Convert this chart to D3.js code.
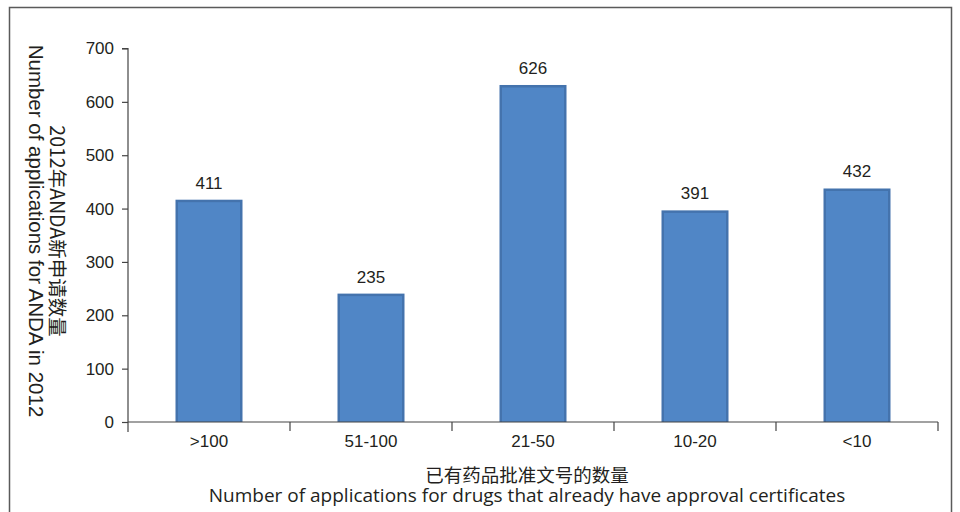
<!DOCTYPE html>
<html>
<head>
<meta charset="utf-8">
<script src="https://cdn.jsdelivr.net/npm/d3@7"></script>
<style>
  html, body { margin: 0; padding: 0; background: #fff; }
  svg { display: block; }
</style>
</head>
<body>
<svg id="chart" width="960" height="512"></svg>
<script>
// Number of drugs already holding approval certificates (category buckets)
const categories = [">100", "51-100", "21-50", "10-20", "<10"];
// New ANDA applications filed in 2012 per bucket
const applications = [411, 235, 626, 391, 432];
const yTicks = [0, 100, 200, 300, 400, 500, 600, 700];

const svg = d3.select("#chart");
const margin = { left: 128, right: 938, top: 48.5, bottom: 422 };
const ink = "#231f20";
const sans = "'Liberation Sans', Arial, sans-serif";
const cjk = "'Noto Sans CJK SC', sans-serif";

// outer frame
svg.append("rect")
  .attr("x", 9.5).attr("y", 7.5)
  .attr("width", 942).attr("height", 520)
  .attr("fill", "none").attr("stroke", "#5a5a5a").attr("stroke-width", 1.5);

const x = d3.scaleBand().domain(categories)
  .range([margin.left, margin.right]).paddingInner(0).paddingOuter(0);
const y = d3.scaleLinear().domain([0, 700]).range([margin.bottom, margin.top]);

// bars with a thin bevelled rim
const barW = 67, bevel = 3, inset = 2.5;
const bars = svg.append("g").selectAll("g").data(applications).join("g")
  .attr("transform", (d, i) => `translate(${x(categories[i]) + x.bandwidth() / 2 - barW / 2},0)`);
bars.append("rect")
  .attr("x", 0).attr("y", d => y(d) - bevel)
  .attr("width", barW).attr("height", d => y(0) - y(d) + bevel)
  .attr("fill", "#4473ad");
bars.append("rect")
  .attr("x", inset).attr("y", d => y(d) - bevel + inset)
  .attr("width", barW - 2 * inset).attr("height", d => y(0) - y(d) + bevel - inset)
  .attr("fill", "#5086c6");

// value labels
svg.append("g").selectAll("text").data(applications).join("text")
  .attr("x", (d, i) => x(categories[i]) + x.bandwidth() / 2)
  .attr("y", d => y(d) - bevel - 11)
  .attr("text-anchor", "middle")
  .attr("font-family", sans)
  .attr("font-size", 17)
  .attr("fill", ink)
  .text(d => d);

// y axis
const yAxis = d3.axisLeft(y).tickValues(yTicks).tickSize(6).tickPadding(8);
const gy = svg.append("g").attr("transform", `translate(${margin.left},0)`).call(yAxis);
gy.select(".domain").attr("d", `M-6,${margin.top}H0V${margin.bottom + 10}`)
  .attr("stroke", "#444").attr("stroke-width", 1.2);
gy.selectAll(".tick line").attr("stroke", "#444").attr("stroke-width", 1.2);
gy.selectAll(".tick text")
  .attr("font-family", sans)
  .attr("font-size", 17).attr("fill", ink);

// x axis: tick marks on category boundaries, labels at band centres
const gx = svg.append("g").attr("transform", `translate(0,${margin.bottom})`);
gx.append("line")
  .attr("x1", margin.left).attr("x2", margin.right)
  .attr("stroke", "#444").attr("stroke-width", 1.2);
gx.selectAll("line.bound").data(categories).join("line")
  .attr("class", "bound")
  .attr("x1", d => x(d) + x.bandwidth()).attr("x2", d => x(d) + x.bandwidth())
  .attr("y1", 0).attr("y2", 9)
  .attr("stroke", "#444").attr("stroke-width", 1.2);
gx.selectAll("text").data(categories).join("text")
  .attr("x", d => x(d) + x.bandwidth() / 2)
  .attr("y", 25)
  .attr("text-anchor", "middle")
  .attr("font-family", sans)
  .attr("font-size", 17).attr("fill", ink)
  .text(d => d);

// x axis title
svg.append("text")
  .attr("x", 527).attr("y", 482)
  .attr("text-anchor", "middle")
  .attr("font-family", cjk).attr("font-size", 18.5).attr("fill", ink)
  .text("已有药品批准文号的数量");
svg.append("text")
  .attr("x", 527).attr("y", 501.5)
  .attr("text-anchor", "middle")
  .attr("font-family", "'Open Sans', sans-serif").attr("font-size", 19).attr("fill", ink)
  .text("Number of applications for drugs that already have approval certificates");

// y axis title (rotated, reading top to bottom)
const yTitle = svg.append("g").attr("transform", "translate(0,231)");
yTitle.append("text")
  .attr("transform", "translate(50,0) rotate(90)")
  .attr("text-anchor", "middle")
  .attr("font-family", cjk).attr("font-size", 19.5).attr("fill", ink)
  .text("2012年ANDA新申请数量");
yTitle.append("text")
  .attr("transform", "translate(29,0) rotate(90)")
  .attr("text-anchor", "middle")
  .attr("font-family", sans).attr("font-size", 20.5).attr("fill", ink)
  .text("Number of applications for ANDA in 2012");
</script>
</body>
</html>
